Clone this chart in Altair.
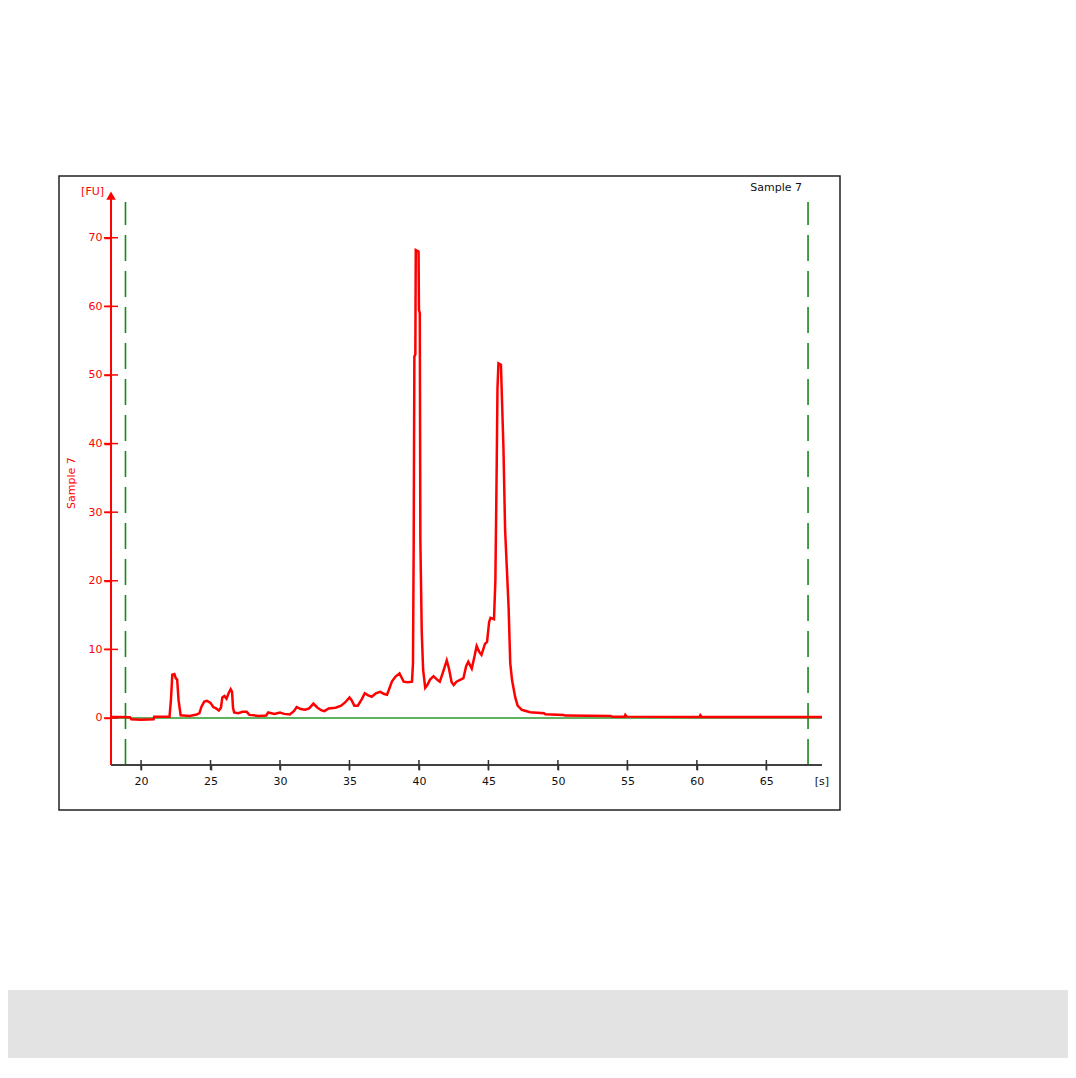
import altair as alt
import pandas as pd

# ---------------- data ----------------
time_s = [17.84, 18.5, 19.2, 19.3, 20.0, 20.9, 20.95, 22.05, 22.15, 22.25, 22.4, 22.5, 22.6, 22.7, 22.85,
          23.5, 24.0, 24.2, 24.35, 24.55, 24.75, 25.0, 25.2, 25.4, 25.6, 25.75, 25.85, 26.0, 26.15, 26.3,
          26.45, 26.55, 26.62, 26.7, 27.0, 27.3, 27.6, 27.8, 28.5, 29.0, 29.15, 29.6, 30.0, 30.3, 30.7,
          31.0, 31.2, 31.5, 31.8, 32.1, 32.4, 32.7, 33.0, 33.2, 33.5, 34.0, 34.4, 34.7, 35.0, 35.15,
          35.35, 35.6, 35.9, 36.1, 36.35, 36.6, 36.9, 37.2, 37.5, 37.7, 37.85, 38.05, 38.3, 38.6, 38.75,
          38.9, 39.2, 39.5, 39.57, 39.62, 39.67, 39.74, 39.77, 39.97, 40.0, 40.06, 40.1, 40.2, 40.3,
          40.45, 40.6, 40.8, 41.05, 41.3, 41.5, 41.75, 42.0, 42.15, 42.35, 42.5, 42.7, 43.0, 43.2, 43.4,
          43.55, 43.8, 44.0, 44.15, 44.35, 44.5, 44.75, 44.9, 45.05, 45.15, 45.4, 45.5, 45.6, 45.65,
          45.72, 45.9, 45.96, 46.08, 46.2, 46.33, 46.45, 46.57, 46.7, 46.93, 47.1, 47.4, 48.0, 49.0,
          49.1, 50.4, 50.5, 53.8, 53.9, 54.8, 54.85, 54.95, 60.2, 60.25, 60.35, 69.0]
fu = [0.15, 0.15, 0.1, -0.2, -0.25, -0.2, 0.2, 0.2, 2.6, 6.3, 6.4, 5.8, 5.6, 2.6, 0.4,
      0.3, 0.5, 0.7, 1.65, 2.4, 2.5, 2.2, 1.6, 1.4, 1.1, 1.5, 3.0, 3.2, 2.8, 3.6,
      4.2, 3.8, 1.5, 0.8, 0.7, 0.9, 0.9, 0.45, 0.3, 0.35, 0.8, 0.6, 0.8, 0.6, 0.5,
      1.0, 1.6, 1.3, 1.2, 1.4, 2.1, 1.5, 1.1, 1.0, 1.4, 1.5, 1.8, 2.3, 3.0, 2.6,
      1.8, 1.8, 2.8, 3.6, 3.3, 3.1, 3.6, 3.8, 3.5, 3.4, 4.2, 5.3, 6.0, 6.5, 5.9,
      5.3, 5.2, 5.3, 8.0, 25.0, 52.7, 53.0, 68.2, 68.0, 59.5, 59.0, 26.0, 12.6, 7.0,
      4.4, 4.8, 5.6, 6.1, 5.6, 5.3, 6.8, 8.4, 7.3, 5.2, 4.8, 5.3, 5.6, 5.8, 7.6,
      8.2, 7.2, 9.0, 10.5, 9.6, 9.2, 10.8, 11.1, 14.0, 14.6, 14.4, 20.1, 37.6, 48.0,
      51.7, 51.5, 47.4, 39.4, 27.4, 21.6, 16.2, 8.0, 5.5, 3.0, 1.8, 1.2, 0.85, 0.7,
      0.55, 0.45, 0.35, 0.3, 0.2, 0.2, 0.45, 0.2, 0.15, 0.4, 0.15, 0.15]

x_ticks = [20, 25, 30, 35, 40, 45, 50, 55, 60, 65]
y_ticks = [0, 10, 20, 30, 40, 50, 60, 70]
marker_times = [18.88, 68.0]
sample_name = "Sample 7"
y_unit = "[FU]"
x_unit = "[s]"

# scale / axis extents (data units)
X_DOMAIN = [14.096, 70.30]
Y_DOMAIN = [-13.41, 79.0]
AX_X0, AX_X1 = 17.84, 69.0
AX_Y0, AX_Y1 = -6.85, 76.0
MARK_TOP = 75.2

FONT = "DejaVu Sans"
RED = "#ff0000"
GREEN_DASH = "#168a16"
GREEN_ZERO = "#2a9a2a"

xs = alt.Scale(domain=X_DOMAIN, nice=False, zero=False)
ys = alt.Scale(domain=Y_DOMAIN, nice=False, zero=False)

x_axis = alt.Axis(values=x_ticks, offset=-45, domain=False, grid=False, tickSize=5, tickWidth=1.5,
                  tickColor="#333333", labelColor="#111111", labelFont=FONT, labelFontSize=11,
                  labelPadding=5, labelFlush=False, title=None)
y_axis = alt.Axis(values=y_ticks, offset=-52, domain=False, grid=False, tickSize=7, tickWidth=1.5,
                  tickColor=RED, labelColor=RED, labelFont=FONT, labelFontSize=11,
                  labelPadding=2, title=None)


def X(field):
    return alt.X(field, type="quantitative", scale=xs, axis=x_axis)


def Y(field):
    return alt.Y(field, type="quantitative", scale=ys, axis=y_axis)


trace_df = pd.DataFrame({"t": time_s, "fu": fu})
zero_df = pd.DataFrame({"x0": [AX_X0], "x1": [AX_X1], "y": [0.0]})
marker_df = pd.DataFrame({"t": marker_times, "y0": [AX_Y0] * 2, "y1": [MARK_TOP] * 2})
xaxis_df = pd.DataFrame({"x0": [AX_X0], "x1": [AX_X1], "y": [AX_Y0]})
yaxis_df = pd.DataFrame({"x": [AX_X0], "y0": [AX_Y0], "y1": [AX_Y1]})
xtick_df = pd.DataFrame({"t": x_ticks, "y": [AX_Y0] * len(x_ticks)})
ytick_df = pd.DataFrame({"x": [AX_X0] * len(y_ticks), "v": y_ticks})
arrow_df = pd.DataFrame({"x": [AX_X0], "y": [76.15]})

band = alt.Chart(alt.Data(values=[{}])).mark_rect(color="#e3e3e3").encode(
    x=alt.value(-51), x2=alt.value(1009), y=alt.value(814), y2=alt.value(900)
)

zero_line = alt.Chart(zero_df).mark_rule(color=GREEN_ZERO, strokeWidth=1.6).encode(
    x=X("x0"), x2="x1", y=Y("y")
)

markers = alt.Chart(marker_df).mark_rule(color=GREEN_DASH, strokeWidth=1.6, strokeDash=[26, 10]).encode(
    x=X("t"), y=Y("y0"), y2="y1"
)

trace = alt.Chart(trace_df).mark_line(color=RED, strokeWidth=2.5, interpolate="linear").encode(
    x=X("t"), y=Y("fu")
)

x_axis_line = alt.Chart(xaxis_df).mark_rule(color="#404040", strokeWidth=2).encode(
    x=X("x0"), x2="x1", y=Y("y")
)
y_axis_line = alt.Chart(yaxis_df).mark_rule(color=RED, strokeWidth=2).encode(
    x=X("x"), y=Y("y0"), y2="y1"
)

x_cross = alt.Chart(xtick_df).mark_tick(orient="vertical", size=10, thickness=1.5, color="#333333", opacity=1).encode(
    x=X("t"), y=Y("y")
)
y_cross = alt.Chart(ytick_df).mark_tick(orient="horizontal", size=14, thickness=1.5, color=RED, opacity=1).encode(
    x=X("x"), y=Y("v")
)

arrow = alt.Chart(arrow_df).mark_point(shape="triangle-up", filled=True, color=RED, size=90, opacity=1).encode(
    x=X("x"), y=Y("y")
)

fu_label = alt.Chart(pd.DataFrame({"x": [17.34], "y": [76.66], "txt": [y_unit]})).mark_text(
    align="right", baseline="middle", font=FONT, fontSize=11, color=RED
).encode(x=X("x"), y=Y("y"), text="txt:N")

s_label = alt.Chart(pd.DataFrame({"x": [69.0], "y": [-9.33], "txt": [x_unit]})).mark_text(
    align="center", baseline="middle", font=FONT, fontSize=11, color="#111111"
).encode(x=X("x"), y=Y("y"), text="txt:N")

corner_label = alt.Chart(pd.DataFrame({"x": [67.57], "y": [77.25], "txt": [sample_name]})).mark_text(
    align="right", baseline="middle", font=FONT, fontSize=11, color="#111111"
).encode(x=X("x"), y=Y("y"), text="txt:N")

y_title = alt.Chart(pd.DataFrame({"x": [15.03], "y": [34.25], "txt": [sample_name]})).mark_text(
    align="center", baseline="middle", font=FONT, fontSize=11, color=RED, angle=270
).encode(x=X("x"), y=Y("y"), text="txt:N")

chart = alt.layer(
    band, zero_line, markers, trace, x_axis_line, y_axis_line, x_cross, y_cross, arrow,
    fu_label, s_label, corner_label, y_title
).properties(
    width=781, height=634,
    autosize=alt.AutoSizeParams(type="none"),
    padding={"left": 51, "top": 168, "right": 228, "bottom": 248},
    background="white",
).configure_view(
    stroke="#222222", strokeWidth=1.5, fill="white"
)

chart.save("out.html", embed_options={"renderer": "svg", "actions": False})
